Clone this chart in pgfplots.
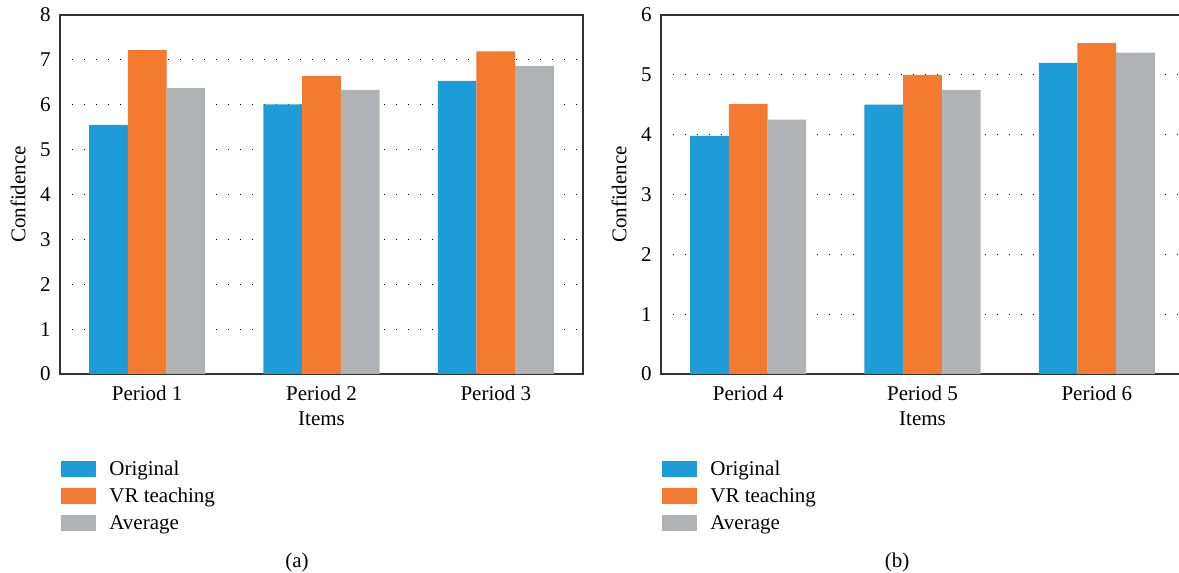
\documentclass[border=0pt]{standalone}
\usepackage{fontspec}
\setmainfont{Liberation Serif}
\usepackage{pgfplots}
\pgfplotsset{compat=1.18}
\definecolor{cblue}{HTML}{1D9CD7}
\definecolor{corange}{HTML}{F47A30}
\definecolor{cgrey}{HTML}{B1B2B6}
\definecolor{caxis}{HTML}{333333}
\pgfplotsset{
  barleg/.style={legend image code/.code={\fill[##1] (0pt,-3.5pt) rectangle (17.5pt,4.5pt);}},
  panel/.style={
    scale only axis, width=261.5pt, height=179.5pt,
    font=\rmfamily\fontsize{10.5}{12}\selectfont,
    /pgf/number format/assume math mode=true,
    ybar=0pt, bar width=0.222,
    xmin=-0.5, xmax=2.5, xtick={0,1,2},
    xtick pos=right, xticklabel pos=left,
    xtick style={draw=none},
    extra x ticks={-0.5,-0.4312,...,2.5},
    extra x tick labels={},
    extra x tick style={major tick length=1.3pt, tick style={draw=caxis, line width=0.4pt}},
    ytick style={draw=none},
    ymin=0,
    ymajorgrids,
    grid style={black, line width=0.6pt, dash pattern=on 0.5pt off 5.5pt},
    axis line style={draw=caxis, line width=0.7pt},
    yticklabel style={inner sep=0pt, xshift=-4.5pt},
    xticklabel style={inner sep=0pt, yshift=-1.5pt},
    xlabel={Items}, ylabel={Confidence},
    xlabel style={at={(axis description cs:0.5,-0.1253)}, anchor=center},
    ylabel style={at={(axis description cs:-0.0803,0.5)}, anchor=center},
    legend cell align=left,
    legend style={draw=none, fill=none, at={(-0.0096,-0.2312)}, anchor=north west,
      font=\rmfamily\fontsize{10.5}{12}\selectfont,
      nodes={inner sep=0pt, text height=7pt, text depth=2pt},
      row sep=4.5pt,
      /tikz/every odd column/.append style={column sep=6.5pt}},
  }
}
\begin{document}
\begin{tikzpicture}
\useasboundingbox (0,0) rectangle (589.5pt,286.5pt);
\clip (0,0) rectangle (589.5pt,286.5pt);
\begin{axis}[panel, at={(30pt,99.5pt)}, anchor=south west,
  ymax=8, ytick={0,1,...,8},
  xticklabels={Period 1, Period 2, Period 3}]
\addplot[fill=cblue, draw=none, barleg] coordinates {(0,5.55) (1,6.01) (2,6.53)};
\addplot[fill=corange, draw=none, barleg] coordinates {(0,7.22) (1,6.64) (2,7.19)};
\addplot[fill=cgrey, draw=none, barleg] coordinates {(0,6.37) (1,6.33) (2,6.86)};
\legend{Original, VR teaching, Average}
\end{axis}
\begin{axis}[panel, at={(330.5pt,99.5pt)}, anchor=south west,
  ymax=6, ytick={0,1,...,6},
  xticklabels={Period 4, Period 5, Period 6}]
\addplot[fill=cblue, draw=none, barleg] coordinates {(0,3.98) (1,4.50) (2,5.20)};
\addplot[fill=corange, draw=none, barleg] coordinates {(0,4.51) (1,5.00) (2,5.53)};
\addplot[fill=cgrey, draw=none, barleg] coordinates {(0,4.25) (1,4.75) (2,5.37)};
\legend{Original, VR teaching, Average}
\end{axis}
\node[font=\rmfamily\fontsize{10.5}{12}\selectfont] at (148.5pt,5.5pt) {(a)};
\node[font=\rmfamily\fontsize{10.5}{12}\selectfont] at (448.5pt,5.5pt) {(b)};
\end{tikzpicture}
\end{document}
